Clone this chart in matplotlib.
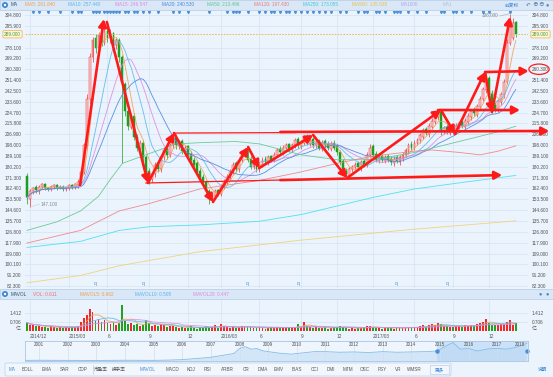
import matplotlib
matplotlib.use("Agg")
import matplotlib.pyplot as plt
import matplotlib.patches as mpatches
import matplotlib.transforms as mtransforms
from matplotlib.lines import Line2D
from matplotlib.ticker import FormatStrFormatter
import numpy as np
import pandas as pd

plt.rcParams['font.family'] = ['Liberation Sans', 'Noto Sans CJK SC', 'DejaVu Sans']

# weekly candles, end of Nov 2014 -> Jan 2018
opens = [173, 154, 160, 164, 160, 164, 166, 163, 162, 164,
         165, 163, 164, 162, 163, 165, 164, 165, 168, 176,
         198, 236, 270, 286, 278, 288, 282, 292, 285, 290,
         280, 284, 270, 248, 226, 213, 222, 205, 195, 200,
         188, 177, 170, 174, 183, 178, 188, 195, 190, 198,
         205, 197, 201, 192, 197, 191, 186, 183, 177, 172,
         168, 160, 153, 156, 161, 158, 164, 168, 172, 176,
         183, 178, 186, 190, 195, 187, 180, 185, 178, 182,
         187, 184, 189, 186, 190, 195, 192, 196, 199, 194,
         198, 203, 197, 200, 205, 199, 203, 198, 201, 195,
         201, 199, 195, 200, 197, 192, 185, 177, 173, 178,
         180, 183, 179, 185, 182, 190, 197, 191, 185, 189,
         185, 189, 187, 183, 188, 184, 187, 190, 193, 199,
         196, 200, 202, 205, 211, 207, 213, 217, 221, 225,
         209, 213, 208, 213, 209, 213, 217, 213, 217, 221,
         227, 223, 229, 236, 243, 253, 241, 231, 227, 233,
         239, 250, 282, 286, 299]
closes = [155, 160, 163, 161, 164, 166, 163, 162, 164, 165,
          163, 164, 162, 163, 165, 164, 166, 168, 176, 198,
          236, 270, 284, 278, 288, 282, 292, 286, 290, 280,
          284, 270, 250, 226, 214, 222, 205, 196, 200, 188,
          176, 170, 174, 182, 178, 188, 194, 190, 198, 204,
          198, 200, 193, 196, 190, 186, 182, 176, 172, 168,
          160, 154, 156, 160, 158, 164, 168, 172, 176, 182,
          178, 186, 190, 194, 186, 180, 184, 178, 182, 186,
          184, 188, 186, 190, 194, 192, 196, 198, 194, 198,
          202, 198, 200, 204, 200, 202, 198, 200, 196, 200,
          198, 196, 199, 196, 192, 184, 176, 174, 178, 180,
          182, 180, 184, 182, 190, 196, 190, 186, 188, 186,
          188, 186, 184, 187, 185, 188, 190, 194, 198, 196,
          200, 202, 206, 210, 208, 214, 218, 222, 224, 210,
          212, 209, 212, 210, 214, 216, 214, 218, 222, 226,
          224, 230, 236, 244, 252, 240, 230, 228, 234, 240,
          250, 282, 300, 298, 289]
highs = [175, 162, 164, 165, 165, 167, 167, 164, 165, 166,
         166, 165, 165, 164, 166, 166, 167, 170, 178, 200,
         240, 274, 287, 289, 291, 290, 298, 295, 293, 291,
         286, 286, 272, 250, 228, 224, 224, 207, 202, 202,
         190, 179, 176, 184, 185, 190, 196, 197, 200, 206,
         207, 202, 203, 198, 198, 193, 188, 185, 179, 174,
         169, 162, 158, 162, 162, 166, 170, 174, 178, 184,
         185, 188, 192, 196, 197, 189, 186, 187, 184, 188,
         189, 190, 190, 192, 196, 197, 198, 200, 200, 200,
         204, 205, 202, 206, 207, 204, 205, 202, 203, 202,
         203, 201, 201, 202, 199, 194, 187, 179, 180, 182,
         184, 185, 186, 187, 192, 199, 199, 193, 190, 191,
         190, 191, 189, 189, 190, 190, 192, 196, 200, 201,
         202, 204, 208, 212, 213, 216, 220, 224, 227, 226,
         214, 215, 214, 215, 216, 218, 219, 220, 224, 228,
         229, 232, 238, 246, 256, 255, 243, 233, 236, 242,
         252, 285, 306, 302, 300]
lows = [150, 147.1, 158, 159, 158, 162, 161, 160, 160, 162,
        161, 162, 160, 160, 161, 162, 162, 163, 166, 174,
        195, 232, 266, 274, 275, 279, 280, 283, 282, 277,
        277, 266, 183, 222, 210, 211, 202, 193, 192, 185,
        173, 166, 168, 172, 176, 176, 186, 187, 188, 196,
        195, 195, 191, 190, 188, 184, 180, 174, 170, 165,
        158, 150, 151, 154, 156, 156, 162, 166, 170, 174,
        176, 176, 184, 188, 184, 178, 178, 176, 176, 180,
        182, 182, 184, 184, 188, 190, 190, 194, 192, 192,
        196, 196, 195, 198, 198, 197, 196, 196, 194, 193,
        196, 194, 193, 194, 190, 182, 174, 171, 171, 176,
        178, 178, 177, 180, 180, 188, 188, 184, 183, 184,
        183, 184, 182, 181, 183, 182, 185, 188, 191, 194,
        194, 198, 200, 203, 206, 205, 211, 215, 219, 206,
        207, 207, 206, 207, 207, 211, 212, 211, 215, 219,
        222, 221, 227, 234, 241, 238, 224, 225, 225, 231,
        237, 248, 280, 284, 287]
# volume, 100 million shares
volumes = [0.68, 0.45, 0.5, 0.38, 0.42, 0.3, 0.33, 0.25, 0.38, 0.3,
           0.25, 0.33, 0.25, 0.3, 0.25, 0.33, 0.3, 0.42, 0.75, 1.05,
           1.3, 1.8, 1.55, 0.8, 1.0, 0.75, 0.9, 0.65, 0.6, 0.75,
           0.5, 0.65, 2.1, 0.8, 0.6, 0.65, 0.5, 0.6, 0.42, 0.5,
           0.9, 0.65, 0.42, 0.5, 0.42, 0.6, 0.5, 0.33, 0.42, 0.38,
           0.33, 0.25, 0.3, 0.25, 0.25, 0.38, 0.25, 0.2, 0.3, 0.25,
           0.38, 0.33, 0.3, 0.45, 0.25, 0.6, 0.38, 0.3, 0.25, 0.33,
           0.25, 0.3, 0.38, 0.42, 0.33, 0.3, 0.25, 0.25, 0.3, 0.25,
           0.2, 0.25, 0.3, 0.25, 0.33, 0.3, 0.25, 0.33, 0.25, 0.3,
           0.25, 0.58, 0.33, 0.75, 0.42, 0.3, 0.25, 0.3, 0.25, 0.25,
           0.3, 0.2, 0.25, 0.3, 0.33, 0.42, 0.3, 0.25, 0.2, 0.25,
           0.2, 0.25, 0.25, 0.3, 0.42, 0.38, 0.3, 0.25, 0.25, 0.2,
           0.25, 0.3, 0.25, 0.2, 0.25, 0.3, 0.25, 0.33, 0.3, 0.25,
           0.3, 0.33, 0.38, 0.45, 0.33, 0.5, 0.55, 0.45, 0.62, 0.58,
           0.38, 0.42, 0.33, 0.3, 0.38, 0.42, 0.33, 0.45, 0.42, 0.5,
           0.38, 0.55, 0.62, 0.75, 1.0, 0.65, 0.5, 0.45, 0.5, 0.55,
           0.6, 0.75, 0.9, 0.45, 0.611]

# long moving averages (candle index, value)
ma50_idx = [0, 10, 18, 24, 28, 32, 41, 50, 58, 70, 78, 92, 104, 116, 130, 140, 150, 158, 164]
ma50_vals = [128, 135, 144, 156, 170, 183, 191, 199, 200, 201, 199, 190, 186, 186, 192, 198, 204, 209, 213.5]
ma120_idx = [0, 18, 31, 41, 58, 78, 92, 104, 116, 130, 136, 145, 152, 158, 164]
ma120_vals = [117.6, 128, 144, 150, 162, 169, 176, 183, 189, 193, 194, 192, 190, 193, 197.4]
ma250_idx = [0, 18, 31, 41, 58, 78, 92, 104, 116, 130, 145, 164]
ma250_vals = [114, 119, 128, 131, 132.5, 135.5, 141, 148, 155, 162, 167, 173.1]
ma500_idx = [0, 18, 31, 58, 92, 130, 164]
ma500_vals = [85, 91, 99, 110.5, 120, 129, 135.8]

ma_header = ["MA5: 281.840", "MA10: 257.440", "MA15: 246.547", "MA20: 240.530", "MA50: 213.496",
             "MA120: 197.430", "MA250: 173.055", "MA500: 135.835", "MA1000", "MA1"]
vol_header = ["VOL: 0.611", "MAVOL5: 0.662", "MAVOL10: 0.595", "MAVOL20: 0.447"]

price_ticks = [304.8, 295.9, 278.1, 269.2, 260.3, 251.4, 242.5, 233.6, 224.7, 215.8, 206.9,
               198.0, 189.1, 180.2, 171.3, 162.4, 153.5, 144.6, 135.7, 126.8, 117.9, 109.0,
               100.1, 91.2, 82.3]
last_price = 289.0
high_price = 306.0
low_price = 147.1
vol_ticks = [0.706, 1.412]

quarter_idx = [1, 14, 27, 41, 54, 65, 78, 92, 104, 116, 130, 143, 155]
quarter_labels = ["2014/12", "2015/03", "6", "9", "12", "2016/03", "6", "9", "12", "2017/03", "6", "9", "12"]

event_idx = [2, 4, 7, 11, 15, 17, 18, 22, 23, 24, 26, 27, 28, 29, 30, 31, 33, 34, 36, 37, 39, 41, 44,
             49, 51, 54, 61, 67, 69, 70, 71, 74, 78, 80, 82, 83, 85, 87, 88, 90, 92, 94, 96, 98, 100,
             102, 105, 107, 111, 113, 114, 117, 118, 120, 123, 124, 125, 128, 131, 134, 139, 140, 143,
             144, 146, 149, 153, 155, 162]
dividend_idx = [23, 39, 74, 91, 124, 141]

# hand-drawn trend arrows (candle index, price)
trend_arrows = [((17.8, 165.2), (25.8, 301.5)), ((26.8, 299.1), (40.6, 166.9)),
                ((40.6, 166.9), (49.3, 207.9)), ((49.3, 207.9), (62.4, 151.3)),
                ((62.4, 151.3), (74.2, 196.4)), ((74.2, 196.4), (77.9, 179.2)),
                ((77.9, 179.2), (96.0, 206.3)), ((96.0, 206.3), (107.4, 171.0)),
                ((107.4, 171.0), (138.9, 226.8)), ((138.9, 226.8), (143.6, 207.1)),
                ((143.6, 207.1), (153.7, 258.0)), ((153.7, 258.0), (156.0, 225.2)),
                ((156.0, 225.2), (162.1, 303.2)),
                ((85.0, 208.8), (175.2, 209.6)), ((85.0, 169.3), (159.4, 173.4)),
                ((137.9, 226.8), (165.4, 226.8)), ((153.7, 258.0), (168.3, 258.8))]
guide_lines = [((49.3, 207.9), (90.0, 208.3)), ((39.9, 166.9), (90.0, 169.6))]

nav_years = [2000.5, 2001, 2002, 2003, 2004, 2005, 2005.5, 2006, 2006.5, 2007,
             2007.4, 2007.8, 2008.0, 2008.2, 2008.4, 2008.6, 2008.8, 2009.0, 2009.4, 2009.8,
             2010.2, 2010.6, 2011.0, 2011.5, 2012.0, 2012.5, 2013.0, 2013.5, 2014.0, 2014.5,
             2014.9, 2015.2, 2015.45, 2015.7, 2016.0, 2016.3, 2016.7, 2017.0, 2017.3, 2017.6,
             2017.85, 2018.05]
nav_prices = [10, 12, 10, 9, 12, 10, 14, 22, 40, 60,
              90, 120, 200, 230, 190, 200, 165, 150, 125, 110,
              130, 150, 150, 140, 145, 135, 150, 140, 145, 150,
              160, 240, 295, 190, 200, 160, 195, 200, 190, 215,
              250, 289]
nav_labels = list(range(2001, 2019))

btn_labels = ['MA', 'BOLL', 'EMA', 'SAR', 'CDP', '市盈率', '换手率', 'MAVOL', 'MACD', 'KDJ', 'RSI', 'ARBR',
              'CR', 'DMA', 'EMV', 'BIAS', 'CCI', 'DMI', 'MTM', 'OSC', 'PSY', 'VR', 'WMSR', '更多']

# ---------------------------------------------------------------
W, H = 553, 377
def fx(px):
    return px / W
def fy(py):
    return 1 - py / H

RED = '#ee3535'
GREEN = '#1e9e1e'
GRID = '#d3e3f3'
TXT = '#555555'
BG = '#ebf3fc'
BLUE = '#3a86d6'
ARROW = '#ff1a1a'

fig = plt.figure(figsize=(W / 100, H / 100), dpi=100, facecolor=BG)

# header bars
for top, bot in [(0, 10), (289, 299)]:
    fig.add_artist(mpatches.Rectangle((0, fy(bot)), 1, (bot - top) / H, transform=fig.transFigure,
                                      fc='#d9e7f6', ec='#b3cce6', lw=0.5))
    fig.add_artist(mpatches.Ellipse((fx(5), fy((top + bot) / 2)), fx(6), 6 / H, transform=fig.transFigure,
                                    fc=BLUE, ec='none'))
    fig.add_artist(mpatches.Ellipse((fx(5), fy((top + bot) / 2)), fx(2.4), 2.4 / H, transform=fig.transFigure,
                                    fc='white', ec='none'))

hdr_x = [25, 68, 115, 162, 207, 254, 303, 352, 401, 443]
hdr_c = ['#f0a050', '#58b8ee', '#e088e0', '#4a86e0', '#5cc88c', '#f07878', '#3ec8e0', '#e8c050', '#b0a8e8', '#b8c2cc']
fig.text(fx(11), fy(5), 'MA', fontsize=3.4, color='#335577', va='center')
for s, x, cc in zip(ma_header, hdr_x, hdr_c):
    fig.text(fx(x), fy(5), s, fontsize=3.4, color=cc, va='center')
fig.text(fx(505), fy(5), '前复权', fontsize=3.4, color=BLUE, va='center')
for x, g in zip([528, 535, 541, 547], ['↶', '⊕', '⊖', '●']):
    fig.text(fx(x), fy(5), g, fontsize=4, color='#5a7fa8', va='center', ha='center')

vh_x = [33, 80, 135, 193]
vh_c = ['#f07070', '#f0a050', '#58b8ee', '#e088e0']
fig.text(fx(11), fy(294), 'MAVOL', fontsize=3.4, color='#335577', va='center')
for s, x, cc in zip(vol_header, vh_x, vh_c):
    fig.text(fx(x), fy(294), s, fontsize=3.4, color=cc, va='center')
for x in [540, 547]:
    fig.text(fx(x), fy(294), '●', fontsize=4, color=BLUE, va='center', ha='center')

# ---------------- main price panel
ax = fig.add_axes([fx(25), fy(288), fx(503), (288 - 11) / H])
ax.set_facecolor(BG)
for s in ax.spines.values():
    s.set_visible(False)

idx = np.arange(len(closes))
o = np.array(opens, float)
c = np.array(closes, float)
up = c >= o
col = np.where(up, RED, GREEN)
hgt = np.where(np.abs(c - o) < 0.8, 0.8, c - o)
ax.vlines(idx, lows, highs, colors=col, lw=0.5, zorder=3)
ax.bar(idx[up], hgt[up], bottom=o[up], width=0.62, color='#fbd0d0', edgecolor=RED, lw=0.35, zorder=4)
ax.bar(idx[~up], hgt[~up], bottom=o[~up], width=0.62, color=GREEN, edgecolor=GREEN, lw=0.35, zorder=4)

s_close = pd.Series(closes, dtype=float)
for n, cc in [(5, '#f0a050'), (10, '#58b8ee'), (15, '#e088e0'), (20, '#4a86e0')]:
    ax.plot(idx, s_close.rolling(n, min_periods=1).mean(), color=cc, lw=0.6, alpha=0.9, zorder=5)
for xs, ys, cc in [(ma50_idx, ma50_vals, '#5cc88c'), (ma120_idx, ma120_vals, '#f08080'),
                   (ma250_idx, ma250_vals, '#3ee0f0'), (ma500_idx, ma500_vals, '#f0d070')]:
    ax.plot(xs, ys, color=cc, lw=0.6, alpha=0.9, zorder=5)

ax.set_xlim(-0.67, 168.1)
ax.set_ylim(80.7, 308.1)
ax.set_yticks(price_ticks)
ax.yaxis.set_major_formatter(FormatStrFormatter('%.3f'))
ax.tick_params(axis='y', length=0, labelsize=3.4, labelcolor=TXT, labelleft=True, labelright=True, pad=2.5)
ax.set_xticks(quarter_idx)
ax.tick_params(axis='x', length=0, labelbottom=False)
ax.grid(True, color=GRID, lw=0.5)
ax.set_axisbelow(True)

ax.axhline(last_price, color='#f0b040', lw=0.6, ls=(0, (2, 1.5)), zorder=6)
bt = mtransforms.blended_transform_factory(ax.transAxes, ax.transData)
for xa, ha in [(1.008, 'left'), (-0.008, 'right')]:
    ax.text(xa, last_price, '%.3f' % last_price, transform=bt, ha=ha, va='center', fontsize=3.4,
            color='#4a9a3a', clip_on=False,
            bbox=dict(boxstyle='round,pad=0.25', fc='#fdf5dc', ec='#f0b040', lw=0.5))

ax.plot(event_idx, np.full(len(event_idx), 307.4), 'v', ms=1.5, color='#4a8fd8', clip_on=False, zorder=7)
for i in dividend_idx:
    ax.text(i, 84.6, 'q', fontsize=3.6, color='#4a8fd8', ha='center', va='center')

ax.plot([158.7, 162], [304.0, high_price], color='#aaaaaa', lw=0.4, zorder=6)
ax.text(158.3, 304.0, '%.3f' % high_price, ha='right', va='center', fontsize=3.4, color='#888888')
ax.plot([1, 4.2], [low_price, 149.6], color='#cccccc', lw=0.4, zorder=6)
ax.text(4.5, 149.6, '%.3f' % low_price, ha='left', va='center', fontsize=3.4, color='#888888')

for p0, p1 in guide_lines:
    ax.plot([p0[0], p1[0]], [p0[1], p1[1]], color=ARROW, lw=0.9, zorder=8)
for p0, p1 in trend_arrows:
    ax.annotate('', xy=p1, xytext=p0, annotation_clip=False, zorder=9,
                arrowprops=dict(arrowstyle='-|>,head_length=0.55,head_width=0.3', color=ARROW,
                                lw=1.9, shrinkA=0, shrinkB=0, mutation_scale=8))
ax.add_patch(mpatches.Ellipse((171.8, 260.3), 6.8, 8.5, fill=False, ec=ARROW, lw=0.9, clip_on=False, zorder=9))

# ---------------- volume panel
axv = fig.add_axes([fx(25), fy(331), fx(503), 31 / H])
axv.set_facecolor(BG)
for s in axv.spines.values():
    s.set_visible(False)
axv.bar(idx, volumes, width=0.62, color=np.where(up, '#f02a2a', '#22a022'), zorder=3)
s_vol = pd.Series(volumes, dtype=float)
for n, cc in [(5, '#f0a050'), (10, '#58b8ee'), (20, '#e088e0')]:
    axv.plot(idx, s_vol.rolling(n, min_periods=1).mean(), color=cc, lw=0.6, alpha=0.9, zorder=4)
axv.set_xlim(-0.67, 168.1)
axv.set_ylim(0, 2.5)
axv.set_yticks(vol_ticks)
axv.yaxis.set_major_formatter(FormatStrFormatter('%.3f'))
axv.tick_params(axis='y', length=0, labelsize=3.4, labelcolor=TXT, labelleft=True, labelright=True, pad=2.5)
axv.set_xticks(quarter_idx)
axv.set_xticklabels(quarter_labels, ha='left')
axv.tick_params(axis='x', length=0, labelsize=3.4, labelcolor=TXT, pad=2)
axv.grid(True, color=GRID, lw=0.5)
axv.set_axisbelow(True)
bv = mtransforms.blended_transform_factory(axv.transAxes, axv.transData)
axv.text(1.008, 0.22, '亿', transform=bv, ha='left', va='center', fontsize=3.6, color=TXT)
axv.text(-0.008, 0.22, '亿', transform=bv, ha='right', va='center', fontsize=3.6, color=TXT)

# ---------------- navigator
axn = fig.add_axes([fx(25), fy(361), fx(503), 20 / H])
axn.set_facecolor('#eef5fd')
for s in axn.spines.values():
    s.set_color('#a9c6e6')
    s.set_linewidth(0.6)
axn.fill_between(nav_years, nav_prices, 0, color='#d3e6f8', lw=0)
axn.plot(nav_years, nav_prices, color='#86bce8', lw=0.6)
axn.axvspan(2014.9, 2018.05, color='#b5d5f3', alpha=0.6, lw=0)
axn.set_xlim(2000.51, 2018.07)
axn.set_ylim(0, 320)
axn.set_xticks(nav_labels)
axn.set_yticks([])
axn.tick_params(axis='x', length=0, labelbottom=False)
axn.grid(True, axis='x', color='#cfe0f1', lw=0.5)
bn = mtransforms.blended_transform_factory(axn.transData, axn.transAxes)
for yr in nav_labels:
    axn.text(min(yr, 2017.78), 0.84, str(yr), transform=bn, ha='center', va='center', fontsize=3.3, color=TXT)
axn.plot([2014.9, 2018.03], [0.5, 0.5], 'o', ms=2.2, color='#4a8fd8', transform=bn, clip_on=False)

# ---------------- indicator buttons
fig.add_artist(mpatches.FancyBboxPatch((fx(5), fy(376)), fx(446), 13 / H, transform=fig.transFigure,
                                       boxstyle='round,pad=0,rounding_size=0.004',
                                       fc='#f2f7fd', ec='#b6d0ea', lw=0.5))
fig.add_artist(Line2D([fx(93), fx(93)], [fy(365), fy(374)], transform=fig.transFigure, color='#b6d0ea', lw=0.5))
fig.add_artist(mpatches.Rectangle((fx(430), fy(374)), fx(19), 9 / H, transform=fig.transFigure,
                                  fc='none', ec='#b6d0ea', lw=0.5))
btn_x = [12, 28, 47, 65, 83, 101, 119, 148, 172, 191, 208, 227, 246, 263, 279, 297, 315, 331, 348, 365, 382, 398,
         414, 439]
for lab, x in zip(btn_labels, btn_x):
    cc = BLUE if lab in ('MA', 'MAVOL', '更多') else TXT
    fig.text(fx(x), fy(369.5), lab, fontsize=3.3, color=cc, ha='center', va='center')
fig.text(fx(542), fy(369.5), '说明', fontsize=3.3, color=BLUE, ha='center', va='center')

fig.savefig('out.png', dpi=100, facecolor=BG)
